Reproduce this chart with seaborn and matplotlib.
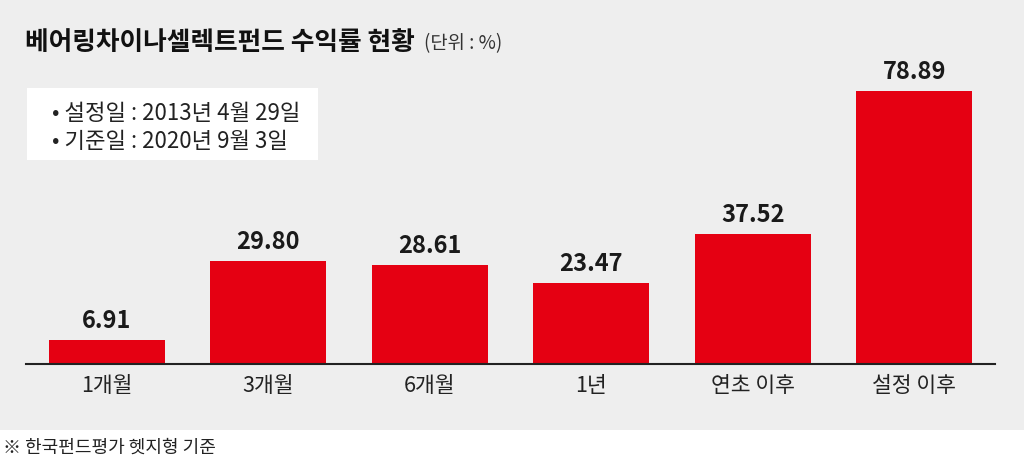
import matplotlib
matplotlib.use('Agg')
import matplotlib.pyplot as plt
import seaborn as sns
import pandas as pd
from matplotlib.patches import Rectangle

# ------------------------------------------------------------
# data
# ------------------------------------------------------------
periods = ["1개월", "3개월", "6개월", "1년", "연초 이후", "설정 이후"]
returns = [6.91, 29.80, 28.61, 23.47, 37.52, 78.89]

title_main = "베어링차이나셀렉트펀드 수익률 현황"
title_unit = "(단위 : %)"
info_lines = ["• 설정일 : 2013년 4월 29일", "• 기준일 : 2020년 9월 3일"]
footnote = "※ 한국펀드평가 헷지형 기준"

RED = "#e50012"
BG = "#eeeeee"

sns.set_theme(style="white")
plt.rcParams['font.family'] = ['Noto Sans CJK KR', 'DejaVu Sans']

df = pd.DataFrame({"period": periods, "ret": returns})

W, H = 1024, 459
fig = plt.figure(figsize=(W / 100, H / 100), dpi=100, facecolor="white")

# gray panel behind the chart, white strip at the bottom for the source note
fig.patches.append(Rectangle((0, 29 / H), 1, 1 - 29 / H, transform=fig.transFigure,
                             facecolor=BG, edgecolor="none", zorder=-10))

ax = fig.add_axes([26 / W, 95 / H, 969 / W, 312 / H])
ax.set_facecolor("none")
ax.set_zorder(2)

sns.barplot(data=df, x="period", y="ret", color=RED, width=0.72,
            saturation=1, linewidth=0, ax=ax)

ax.set_xlim(-0.5, 5.5)
ax.set_ylim(0, 90)
ax.set_xlabel("")
ax.set_ylabel("")
ax.set_yticks([])
for side in ["top", "left", "right"]:
    ax.spines[side].set_visible(False)
ax.spines["bottom"].set_color("#222222")
ax.spines["bottom"].set_linewidth(1.5)
ax.tick_params(axis="x", length=0, pad=8, labelsize=15.5, labelcolor="#222222")

ax.bar_label(ax.containers[0], fmt="%.2f", padding=5, fontsize=17,
             fontweight="bold", color="#1a1a1a")

# title
t = fig.text(25 / W, 1 - 42 / H, title_main, fontsize=18.5, fontweight="bold",
             color="#111111", va="center", ha="left")
fig.canvas.draw()
bb = t.get_window_extent()
fig.text((bb.x1 + 9) / W, 1 - 44 / H, title_unit, fontsize=13.5, color="#333333",
         va="center", ha="left")

# info box
fig.patches.append(Rectangle((27 / W, 1 - 160 / H), 291 / W, 72 / H,
                             transform=fig.transFigure, facecolor="white",
                             edgecolor="none", zorder=1))
fig.text(52 / W, 1 - 113 / H, info_lines[0], fontsize=16, color="#222222",
         va="center", ha="left", zorder=3)
fig.text(52 / W, 1 - 142 / H, info_lines[1], fontsize=16, color="#222222",
         va="center", ha="left", zorder=3)

# source note
fig.text(3 / W, 1 - 448 / H, footnote, fontsize=13, color="#222222",
         va="center", ha="left")

fig.savefig("out.png", dpi=100, facecolor=fig.get_facecolor())
